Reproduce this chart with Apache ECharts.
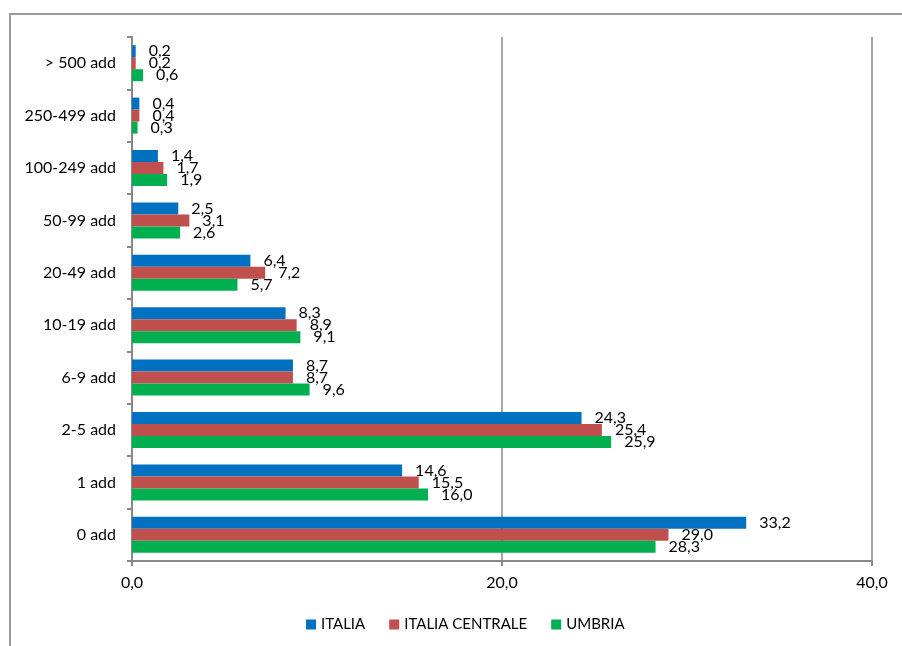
<!DOCTYPE html>
<html>
<head>
<meta charset="utf-8">
<script src="https://cdn.jsdelivr.net/npm/echarts@6/dist/echarts.min.js"></script>
<style>html,body{margin:0;padding:0;background:#fff}#c{width:902px;height:646px}</style>
</head>
<body>
<div id="c"></div>
<script>
const categories = ['> 500 add','250-499 add','100-249 add','50-99 add','20-49 add','10-19 add','6-9 add','2-5 add','1 add','0 add'];
const italia = [0.2,0.4,1.4,2.5,6.4,8.3,8.7,24.3,14.6,33.2];
const italiaCentrale = [0.2,0.4,1.7,3.1,7.2,8.9,8.7,25.4,15.5,29.0];
const umbria = [0.6,0.3,1.9,2.6,5.7,9.1,9.6,25.9,16.0,28.3];
const seriesNames = ['ITALIA','ITALIA CENTRALE','UMBRIA'];
const xTicks = [0,20,40];

const FONT = 'Lato';
const FS = 16;
const fmt = v => Number(v).toFixed(1).replace('.', ',');
const chart = echarts.init(document.getElementById('c'), null, {renderer:'canvas'});
function mk(name, data, color){
  return {
    name, type:'bar', data, barWidth:12, barGap:'0%',
    itemStyle:{color},
    label:{show:true, position:'right', distance:13, formatter:p=>fmt(p.value),
      color:'#000', fontFamily:FONT, fontSize:FS}
  };
}
chart.setOption({
  animation:false,
  backgroundColor:'#fff',
  graphic:[{type:'rect', shape:{x:10,y:14,width:960,height:700},
    style:{fill:'none', stroke:'#999', lineWidth:2}, silent:true, z:-1}],
  grid:{left:132, right:30, top:37, bottom:85, containLabel:false},
  legend:{bottom:9, left:301, itemWidth:10, itemHeight:10, itemGap:24,
    icon:'rect', textStyle:{fontFamily:FONT, fontSize:15, color:'#000'},
    data:seriesNames},
  xAxis:{type:'value', min:xTicks[0], max:xTicks[xTicks.length-1], interval:20,
    axisLine:{show:true, lineStyle:{color:'#888', width:2}},
    axisTick:{show:true, length:5, lineStyle:{color:'#888', width:2}},
    splitLine:{show:true, lineStyle:{color:'#888', width:1.5}},
    axisLabel:{formatter:v=>fmt(v), fontFamily:FONT, fontSize:FS, color:'#000', margin:14}},
  yAxis:{type:'category', data:categories, inverse:true,
    axisLine:{show:true, lineStyle:{color:'#888', width:2}},
    axisTick:{show:true, length:5, lineStyle:{color:'#888', width:2}},
    axisLabel:{fontFamily:FONT, fontSize:FS, color:'#000', margin:16}},
  series:[
    mk(seriesNames[0], italia, '#0070C0'),
    mk(seriesNames[1], italiaCentrale, '#C0504D'),
    mk(seriesNames[2], umbria, '#00B050')
  ]
});
</script>
</body>
</html>
